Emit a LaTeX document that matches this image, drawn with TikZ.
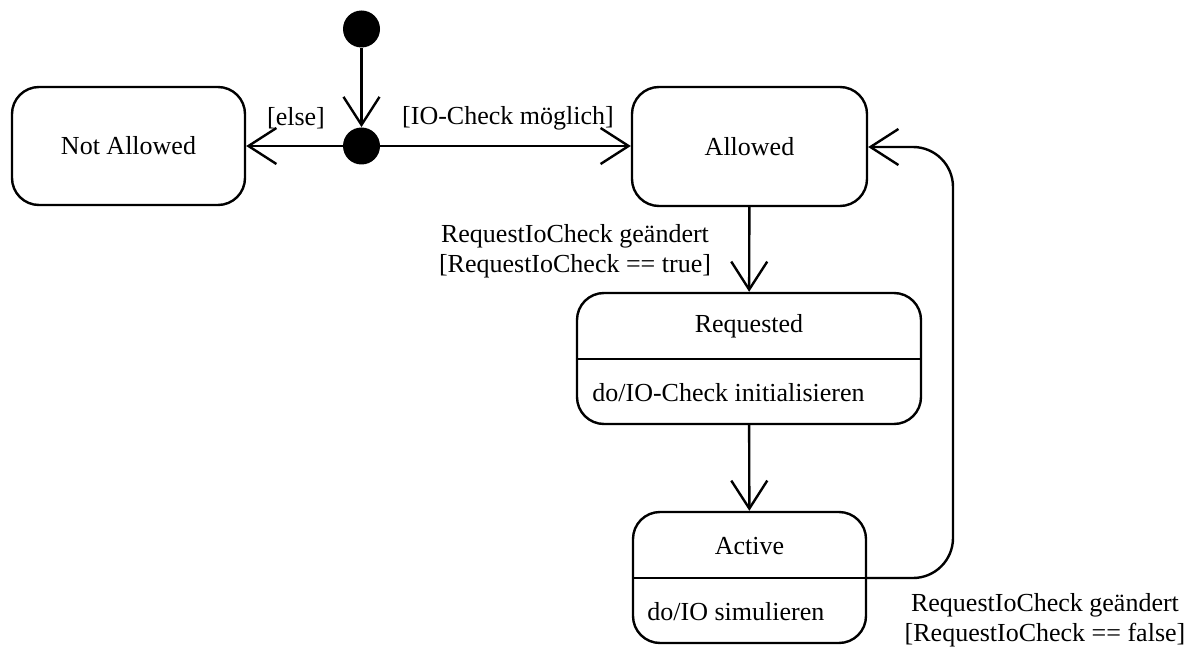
\documentclass[tikz,border=0pt]{standalone}
\usepackage{fontspec}
\setmainfont{Liberation Serif}
\usetikzlibrary{arrows.meta}
\begin{document}
\begin{tikzpicture}[x=0.5pt,y=-0.5pt,
  every node/.style={font=\fontsize{13}{15}\selectfont},
  state/.style={draw, line width=1.2pt, rounded corners=13.5pt, inner sep=0pt},
  dot/.style={circle, fill=black, minimum size=18.5pt, inner sep=0pt},
  flow/.style={line width=1.2pt, -{Straight Barb[length=14pt,width=18pt]}},
  divider/.style={line width=1.2pt},
  lbl/.style={align=center, inner sep=0pt}]
\useasboundingbox (0,0) rectangle (1189,647);

% states
\node[state, minimum width=116.5pt, minimum height=59pt] (notallowed) at (128.5,146) {Not Allowed};
\node[state, minimum width=117.5pt, minimum height=59.5pt] (allowed) at (749.5,146.5) {Allowed};
\node[state, minimum width=172pt, minimum height=65.5pt] (requested) at (749,358.5) {};
\node[state, minimum width=116.5pt, minimum height=65.5pt] (active) at (749.5,577.5) {};

% compartments of the composite states
\node[inner sep=0pt] (reqname) at (749,326) {Requested};
\node[anchor=west, inner sep=0pt] (reqdo) at (592,393) {do/IO-Check initialisieren};
\draw[divider] (requested.west |- 0,359) -- (requested.east |- 0,359);
\node[inner sep=0pt] (actname) at (749.5,546) {Active};
\node[anchor=west, inner sep=0pt] (actdo) at (647,612) {do/IO simulieren};
\draw[divider] (active.west |- 0,578) -- (active.east |- 0,578);

% pseudo states
\node[dot] (init) at (361.5,29) {};
\node[dot] (junction) at (361.5,146) {};

% transitions
\draw[flow] (init) -- (junction);
\draw[flow] (junction) -- (notallowed);
\draw[flow] (junction) -- (allowed.west |- junction);
\draw[flow] (allowed) -- (requested);
\draw[flow] (requested) -- (active);
\coordinate (loopstart) at (active.east |- 0,578);
\coordinate (loopend) at (allowed.east |- 0,147);
\draw[flow, rounded corners=20pt] (loopstart) -- (953,578) -- (953,147) -- (loopend);

% guards and triggers
\node[lbl] (elselbl) at (296,118) {{[}else{]}};
\node[lbl] (possiblelbl) at (508,118) {{[}IO-Check möglich{]}};
\node[lbl] (truelbl) at (575,251) {RequestIoCheck geändert\\{[}RequestIoCheck == true{]}};
\node[lbl] (falselbl) at (1045,620) {RequestIoCheck geändert\\{[}RequestIoCheck == false{]}};
\end{tikzpicture}
\end{document}
